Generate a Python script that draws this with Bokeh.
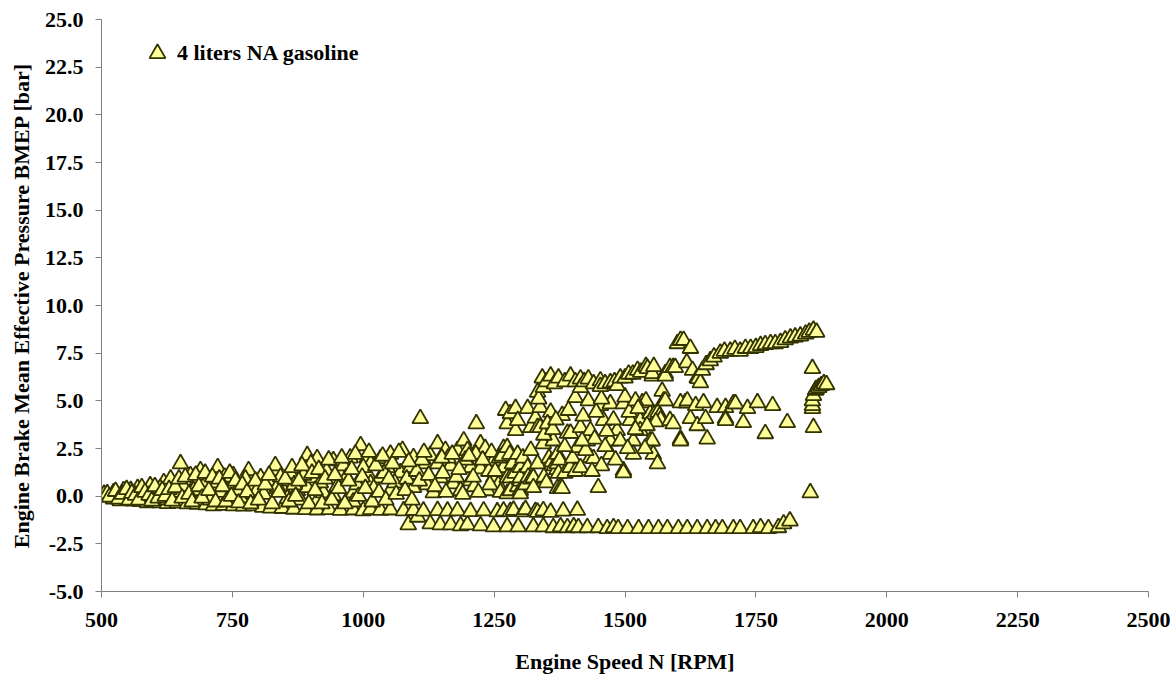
from bokeh.plotting import figure
from bokeh.models import FixedTicker, PrintfTickFormatter, Legend, LegendItem, ColumnDataSource
from bokeh.embed import file_html
from bokeh.resources import INLINE

# Engine operating points, 4 liter naturally aspirated gasoline engine.
# Speed in RPM, brake mean effective pressure in bar, grouped by region.

# Motoring / overrun, lower branch
motoring_low_rpm = [1086, 1104, 1128, 1147, 1167, 1186, 1199, 1224, 1249, 1275, 1296, 1325, 1344,
                    1363, 1377, 1390, 1402, 1411, 1428, 1449, 1466, 1478, 1487, 1505, 1526, 1545,
                    1564, 1581, 1602, 1619, 1638, 1657, 1673, 1686, 1707, 1720, 1745, 1759, 1774,
                    1793, 1803, 1815]
motoring_low_bmep = [-1.5, -1.1, -1.45, -1.5, -1.5, -1.55, -1.5, -1.55, -1.6, -1.6, -1.6, -1.6, -1.6,
                     -1.65, -1.6, -1.65, -1.6, -1.65, -1.65, -1.65, -1.7, -1.65, -1.7, -1.7, -1.7, -1.7,
                     -1.7, -1.7, -1.7, -1.7, -1.7, -1.7, -1.7, -1.7, -1.7, -1.7, -1.7, -1.65, -1.7,
                     -1.65, -1.45, -1.3]

# Motoring / overrun, upper branch
motoring_high_rpm = [523, 536, 550, 561, 574, 588, 599, 612, 626, 645, 664, 683, 700, 714, 733, 752,
                     771, 790, 808, 823, 845, 867, 890, 912, 935, 956, 981, 1000, 1014, 1033, 1052,
                     1077, 1096, 1115, 1142, 1161, 1180, 1205, 1230, 1256, 1268, 1281, 1287, 1306,
                     1310, 1329, 1333, 1344, 1358, 1382, 1409]
motoring_high_bmep = [-0.15, -0.24, -0.2, -0.25, -0.28, -0.34, -0.3, -0.35, -0.38, -0.36, -0.4, -0.42,
                      -0.45, -0.5, -0.48, -0.5, -0.52, -0.5, -0.58, -0.62, -0.64, -0.68, -0.7, -0.72,
                      -0.7, -0.74, -0.72, -0.76, -0.7, -0.74, -0.72, -0.76, -0.74, -0.78, -0.75, -0.78,
                      -0.76, -0.8, -0.77, -0.82, -0.78, -0.8, -0.74, -0.82, -0.7, -0.8, -0.84, -0.76,
                      -0.84, -0.78, -0.74]

# Low speed part load
part_load_rpm = [505, 511, 523, 536, 542, 550, 561, 569, 574, 588, 593, 599, 619, 626, 626, 645, 645,
                 651, 664, 670, 683, 689, 689, 702, 708, 722, 722, 741, 741, 752, 752, 766, 766, 781,
                 790, 790, 804, 817, 823, 829, 832, 848, 855, 861, 861, 874, 880, 893, 893, 893, 905,
                 912, 912, 924, 943, 943, 956, 962, 981, 981, 995, 1008, 1008, 1014, 1014, 1033, 1033,
                 1046, 1052, 1052, 1071, 1075, 1090, 1096, 1096, 1109, 1119, 1128, 1134, 1142, 1142,
                 1147, 1157, 1167, 1172, 1180, 1186, 1192, 1199, 1205, 1205, 1216, 1224, 1224, 1233,
                 1237, 1249, 1249, 1268, 1268,
                 530, 545, 556, 580, 605, 612, 632, 638, 657, 676, 695, 715, 728, 735, 759, 775, 797,
                 810, 836, 842, 868, 886, 900, 918, 930, 950, 968, 975, 988, 1000, 1020, 1040, 1060,
                 1083, 1102, 1112, 1122, 1152, 1162, 1178, 1195, 1212, 1215, 1240, 1245, 1258, 1260,
                 515, 527, 533, 540, 548, 553, 558, 565, 571, 577, 583, 591, 596, 602, 608, 616, 622,
                 629, 635, 641, 648, 654, 660, 667, 673, 680, 686, 692, 698, 705, 712, 718, 725, 731,
                 738, 745, 748, 756, 762, 769, 778, 785, 794, 800, 813, 820, 826, 839, 851, 858, 864,
                 871, 877, 883, 896, 902, 908, 915, 921, 927, 934, 940, 946, 953, 959, 965, 972, 978,
                 985, 991, 998, 1004, 1011, 1017, 1024, 1030, 1037, 1043, 1049, 1056, 1063, 1068,
                 1080, 1087, 1093, 1107, 1116, 1125, 1137, 1150, 1158, 1170, 1183, 1190, 1202, 1210,
                 1220, 1228, 1242, 1252, 1262]
part_load_bmep = [0.1, 0.13, 0.18, -0.05, 0.29, 0.13, -0.13, 0.4, 0.18, -0.1, 0.55, 0.29, 0.71, 0.55,
                  -0.2, 0.65, 0.03, 1.7, 0.65, 1.08, 0.81, 0.18, 1.34, 0.97, -0.2, 0.4, 1.5, 0.81,
                  -0.13, 0.65, 1.08, -0.08, 0.45, 1.34, 0.13, 0.55, 0.97, 0.4, 0.81, 1.34, 1.6, 0.29,
                  -0.13, 0.81, 1.18, 0.29, -0.2, 0.45, 1.5, 2.13, 0.97, -0.24, 1.97, 0.18, 0.03, 1.86,
                  1.18, 1.6, 0.18, -0.3, 2.65, 1.18, 2.02, 0.65, 1.7, 0.97, 1.97, 1.5, 0.29, 2.2, 1.23,
                  2.4, 1.5, 0.45, 2.02, 4.07, 1.7, 2.13, 0.18, 1.7, 2.75, 0.97, 2.4, 1.6, 0.65, 2.4,
                  0.29, 2.9, 2.4, 1.5, 0.81, 3.8, 1.44, 2.75, 2.5, 0.29, 1.86, 0.97, 2.5, 1.5,
                  0.05, -0.1, 0.3, 0.0, 0.1, 0.4, 0.9, 0.2, 0.5, 0.3, 0.6, 0.7, 0.2, 1.0, 0.3, 0.9,
                  0.3, 0.1, 0.5, 1.0, 0.6, 1.1, 1.7, 0.7, 1.3, 0.5, 1.0, 2.0, 0.6, 1.5, 0.4, 1.2, 0.7,
                  0.9, 1.3, 1.9, 0.6, 1.2, 2.0, 1.0, 1.9, 0.5, 2.2, 1.3, 2.3, 0.6, 2.0,
                  -0.05, 0.25, -0.15, 0.1, 0.35, -0.2, 0.15, 0.05, -0.2, 0.45, 0.2, 0.05, -0.25, 0.5,
                  -0.1, 0.3, 0.0, 0.35, -0.25, 0.45, 0.9, -0.1, 1.0, 0.1, -0.3, 1.1, 0.5, -0.1, 1.2,
                  0.3, 1.0, -0.3, 0.9, 0.5, -0.3, 1.2, 0.0, 0.8, -0.35, 0.6, 0.2, -0.4, 0.8, -0.2,
                  0.6, 1.1, -0.4, 0.2, 0.9, -0.3, 1.5, 0.0, 0.8, 1.6, -0.4, 1.2, 0.3, 1.4, -0.4, 0.9,
                  1.9, -0.2, 1.1, 0.4, 2.0, -0.4, 0.8, 1.4, 2.2, 0.0, 1.0, 0.4, 2.3, -0.3, 1.6, 0.2,
                  2.1, -0.2, 0.9, 1.7, 0.1, 2.3, 0.3, 1.8, -0.2, 0.8, 2.3, 1.1, 0.5, 2.0, 0.2, 2.2,
                  1.4, 0.1, 2.1, 1.0, 0.2, 1.9, 0.6, 1.3, 0.2]

# Mid speed part load
mid_load_rpm = [1265, 1272, 1275, 1275, 1275, 1275, 1280, 1281, 1281, 1281, 1285, 1290, 1291, 1291,
                1295, 1295, 1295, 1300, 1300, 1300, 1300, 1300, 1305, 1310, 1314, 1314, 1315, 1320,
                1320, 1320, 1325, 1325, 1329, 1333, 1333, 1338, 1338, 1344, 1345, 1350, 1355, 1358,
                1360, 1363, 1365, 1370, 1371, 1371, 1371, 1373, 1375, 1377, 1380, 1380, 1385, 1390,
                1395, 1396, 1400, 1405, 1405, 1409, 1415, 1415, 1428, 1430, 1434, 1434, 1440, 1449,
                1453, 1459, 1472, 1472, 1472, 1485, 1491, 1497, 1497, 1497, 1510, 1516, 1516, 1529,
                1529, 1533, 1548, 1548, 1552, 1554, 1562, 1564, 1556, 1560, 1563, 1566, 1568, 1559,
                1571, 1574, 1577, 1586, 1592, 1606, 1606, 1615, 1606, 1619, 1619, 1625, 1635, 1638,
                1650, 1654, 1657, 1676, 1692, 1692, 1692, 1707, 1711, 1726, 1734, 1753, 1768, 1782,
                1810,
                1345, 1352, 1362, 1368, 1385, 1392, 1420, 1425, 1442, 1445, 1462, 1465, 1478, 1482,
                1505, 1508, 1520, 1538, 1542, 1540, 1455, 1418, 1437, 1455, 1500, 1520, 1525]
mid_load_bmep = [2.1, 4.5, 3.8, 2.55, 0.97, 0.13, 2.2, 4.33, 0.97, 0.29, 1.7, 1.2, 3.44, 4.6, 3.97,
                 2.2, 0.5, 1.5, 0.8, 0.3, 0.97, 0.13, 2.0, 0.6, 1.5, 4.6, 1.0, 3.6, 2.4, 0.9, 0.97,
                 0.45, 4.1, 1.7, 3.6, 3.6, 4.65, 2.75, 1.0, 0.7, 2.0, 4.4, 1.8, 2.9, 1.6, 1.4, 2.2,
                 1.7, 0.4, 1.2, 1.9, 0.45, 4.23, 0.4, 1.2, 3.3, 1.5, 3.3, 2.0, 1.3, 5.17, 2.55, 3.6,
                 1.5, 2.9, 5.0, 3.44, 2.02, 1.97, 0.45, 4.75, 3.97, 2.2, 2.9, 4.85, 3.44, 2.9, 1.34,
                 1.23, 4.85, 3.97, 2.9, 2.2, 3.97, 3.44, 4.9, 4.33, 2.9, 2.9, 2.2, 1.7, 4.33, 4.3, 4.1,
                 4.4, 4.2, 4.0, 3.9, 5.5, 5.0, 5.0, 3.97, 3.8, 3.0, 2.9, 4.9, 4.9, 4.9, 5.0, 4.07,
                 4.75, 3.7, 4.9, 4.07, 3.0, 4.65, 4.65, 4.07, 3.97, 4.85, 4.85, 3.86, 4.6, 4.9, 3.28,
                 4.75, 3.86,
                 3.2, 3.8, 3.5, 4.0, 2.6, 4.5, 4.2, 2.4, 3.0, 4.4, 2.6, 3.4, 4.0, 1.9, 2.5, 4.4, 3.5,
                 2.5, 3.7, 5.0, 1.6, 2.9, 1.3, 5.1, 5.2, 5.0, 4.6]

# Wide open throttle
full_load_rpm = [1333, 1335, 1342, 1344, 1350, 1358, 1365, 1373, 1385, 1396, 1405, 1415, 1415, 1422,
                 1430, 1440, 1453, 1453, 1462, 1472, 1480, 1485, 1491, 1500, 1507, 1515, 1524, 1530,
                 1540, 1543, 1552, 1552, 1555, 1577, 1577, 1586, 1592, 1596, 1600, 1606, 1612, 1618,
                 1625, 1629, 1638, 1640, 1644, 1648, 1655, 1663, 1670, 1682, 1690, 1701, 1710, 1720,
                 1730, 1740, 1750, 1759, 1768, 1778, 1787, 1797, 1806, 1816, 1825, 1835, 1845, 1852,
                 1860, 1866]
full_load_bmep = [5.45, 5.1, 6.2, 5.7, 6.0, 6.3, 5.9, 6.2, 6.0, 6.3, 6.0, 6.15, 5.7, 6.0, 6.15, 5.9,
                  6.05, 5.75, 5.9, 5.95, 6.0, 5.8, 6.2, 6.2, 6.4, 6.4, 6.6, 6.5, 6.8, 6.7, 6.3, 6.43,
                  6.8, 6.43, 6.3, 6.75, 6.75, 6.75, 8.0, 8.17, 8.17, 7.0, 7.75, 6.6, 6.2, 6.17, 5.95,
                  6.6, 6.9, 7.1, 7.3, 7.5, 7.6, 7.6, 7.7, 7.6, 7.75, 7.75, 7.8, 7.9, 7.95, 8.0, 8.0,
                  8.06, 8.2, 8.3, 8.35, 8.4, 8.5, 8.6, 8.7, 8.6]

# Maximum speed points
max_speed_rpm = [1854, 1860, 1858, 1858, 1858, 1860, 1864, 1865, 1870, 1875, 1880, 1885, 1858]
max_speed_bmep = [0.18, 3.6, 4.6, 4.75, 5.0, 5.28, 5.55, 5.6, 5.7, 5.8, 5.9, 5.85, 6.7]

rpm = (motoring_low_rpm + motoring_high_rpm + part_load_rpm + mid_load_rpm
       + full_load_rpm + max_speed_rpm)
bmep = (motoring_low_bmep + motoring_high_bmep + part_load_bmep + mid_load_bmep
        + full_load_bmep + max_speed_bmep)

x_ticks = [500, 750, 1000, 1250, 1500, 1750, 2000, 2250, 2500]
y_ticks = [-5.0, -2.5, 0.0, 2.5, 5.0, 7.5, 10.0, 12.5, 15.0, 17.5, 20.0, 22.5, 25.0]

FONT = "Liberation Serif"
AXIS_GREY = "#808080"

p = figure(width=1172, height=681, x_range=(500, 2500), y_range=(-5, 25),
           output_backend="svg", toolbar_location=None,
           min_border_left=101, min_border_right=24, min_border_top=19, min_border_bottom=90)
p.outline_line_color = None
p.xgrid.grid_line_color = None
p.ygrid.grid_line_color = None
p.background_fill_color = "white"
p.border_fill_color = "white"

src = ColumnDataSource(data=dict(rpm=rpm, bmep=bmep))
r = p.scatter("rpm", "bmep", source=src, marker="triangle", size=16,
              fill_color="#FFFF99", line_color="#333300", line_width=1.8)

for ax in (p.xaxis[0], p.yaxis[0]):
    ax.axis_line_color = AXIS_GREY
    ax.major_tick_line_color = AXIS_GREY
    ax.major_tick_out = 6
    ax.major_tick_in = 0
    ax.minor_tick_out = 0
    ax.minor_tick_in = 0
    ax.major_label_text_font = FONT
    ax.major_label_text_font_style = "bold"
    ax.major_label_text_font_size = "22px"
    ax.major_label_text_color = "black"
    ax.axis_label_text_font = FONT
    ax.axis_label_text_font_style = "bold"
    ax.axis_label_text_font_size = "22px"
    ax.axis_label_text_color = "black"

p.xaxis[0].ticker = FixedTicker(ticks=x_ticks)
p.yaxis[0].ticker = FixedTicker(ticks=y_ticks)
p.yaxis[0].formatter = PrintfTickFormatter(format="%.1f")
p.xaxis[0].axis_label = "Engine Speed N [RPM]"
p.yaxis[0].axis_label = "Engine Brake Mean Effective Pressure BMEP [bar]"
p.xaxis[0].major_label_standoff = 15
p.xaxis[0].axis_label_standoff = 19
p.yaxis[0].major_label_standoff = 12
p.yaxis[0].axis_label_standoff = 8

legend = Legend(items=[LegendItem(label="4 liters NA gasoline", renderers=[r])],
                location=(36, 518), padding=0, margin=0, spacing=0,
                glyph_width=40, glyph_height=40, label_standoff=0,
                label_text_font=FONT, label_text_font_style="bold",
                label_text_font_size="22px", label_text_color="black",
                border_line_color=None, background_fill_alpha=0)
p.add_layout(legend)

open("out.html", "w").write(file_html(p, INLINE))
